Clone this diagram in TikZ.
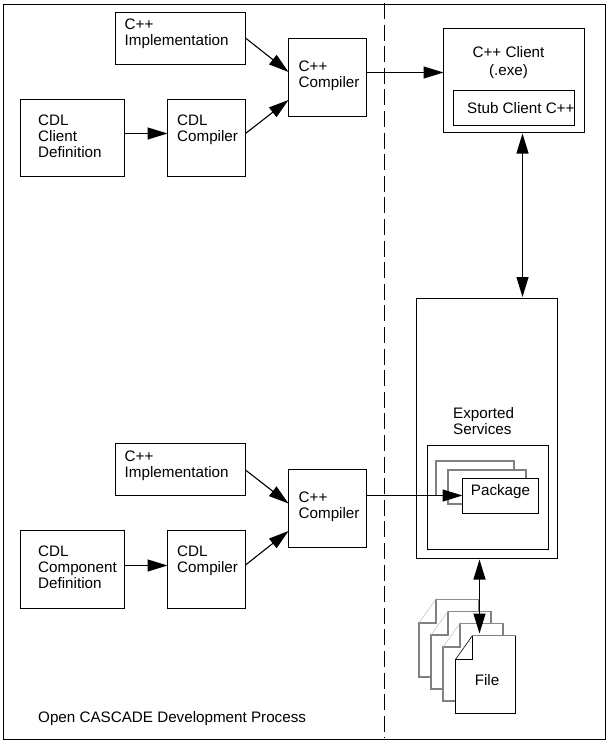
\documentclass[tikz,border=0pt]{standalone}
\usepackage{fontspec}
\setmainfont{Liberation Sans}
\usetikzlibrary{arrows.meta}
\tikzset{
  x=1pt,y=-1pt,
  box/.style={draw=black,line width=1.1pt,fill=white,outer sep=0pt,inner sep=0pt,anchor=north west},
  grey box/.style={box,draw=black!50,line width=1.7pt},
  lab/.style={inner sep=0pt,align=left,anchor=north west,font=\fontsize{15.2}{16}\selectfont},
  conn/.style={line width=1.1pt},
  big/.style={-{Triangle[length=20pt,width=12pt]}},
  bigboth/.style={{Triangle[length=20pt,width=12pt]}-{Triangle[length=20pt,width=12pt]}},
}
\begin{document}
\begin{tikzpicture}
\useasboundingbox (0,0) rectangle (609,744);
\fill[white] (0,0) rectangle (609,744);
% frame
\draw[line width=1.1pt] (3.5,739.5) -- (3.5,4.5) -- (605.5,4.5) -- (605.5,739.5) -- cycle;
\coordinate (dashtop) at (384.5,3);
\coordinate (dashbot) at (384.5,738);
\draw[line width=1.1pt,dash pattern=on 16pt off 5.6pt] (dashtop) -- (dashbot);
% upper left
\node[box,minimum width=130pt,minimum height=52pt] (impA) at (115.5,12.5) {};
\node[lab] at (124.5,19) {C++\\Implementation};
\node[box,minimum width=104pt,minimum height=77pt] (cdlA) at (20.5,99.5) {};
\node[lab] at (38,114.5) {CDL\\Client\\Definition};
\node[box,minimum width=78pt,minimum height=77pt] (compA) at (167.5,99.5) {};
\node[lab] at (177,114.5) {CDL\\Compiler};
\node[box,minimum width=78pt,minimum height=78pt] (ccA) at (288.5,38.5) {};
\node[lab] at (298.5,60.5) {C++\\Compiler};
% client
\node[box,minimum width=141pt,minimum height=104pt] (client) at (443.5,28.5) {};
\node[font=\fontsize{15.2}{18}\selectfont,align=center,inner sep=0pt,anchor=north] at (508.5,46) {C++ Client\\(.exe)};
\node[box,minimum width=121pt,minimum height=35pt] (stub) at (453.5,90.5) {};
\node[lab,anchor=west] at (467,108) {Stub Client C++};
% server
\node[box,minimum width=141pt,minimum height=260pt] (server) at (416.5,298.5) {};
\node[lab] at (453,407.5) {Exported\\Services};
\node[box,minimum width=121pt,minimum height=104pt] (svc) at (427.5,445.5) {};
\node[grey box,minimum width=78pt,minimum height=34.5pt] (p1) at (436,461) {};
\node[grey box,minimum width=78pt,minimum height=34pt] (p2) at (448,470) {};
\node[box,minimum width=76pt,minimum height=35pt] (pkg) at (462.5,478.5) {};
\node[font=\fontsize{15.2}{16}\selectfont,inner sep=0pt] at (500.5,492) {Package};
% lower left
\node[box,minimum width=130pt,minimum height=52pt] (impB) at (115.5,443.5) {};
\node[lab] at (124.5,451) {C++\\Implementation};
\node[box,minimum width=104pt,minimum height=78pt] (cdlB) at (20.5,530.5) {};
\node[lab] at (38,545.5) {CDL\\Component\\Definition};
\node[box,minimum width=78pt,minimum height=78pt] (compB) at (167.5,530.5) {};
\node[lab] at (177,545.5) {CDL\\Compiler};
\node[box,minimum width=78pt,minimum height=78pt] (ccB) at (288.5,469.5) {};
\node[lab] at (298.5,492) {C++\\Compiler};
\node[lab] at (38,711) {Open CASCADE Development Process};
% files
\foreach \dx/\dy in {0/0,12/12.3,24.2/24}{
  \fill[white] (419+\dx,622.7+\dy) -- (436+\dx,599+\dy) -- (479+\dx,599+\dy) -- (479+\dx,677+\dy) -- (419+\dx,677+\dy) -- cycle;
  \draw[black!45,line width=1pt] (436+\dx,599+\dy) -- (479+\dx,599+\dy);
  \draw[black!50,line width=1.7pt] (479+\dx,599+\dy) -- (479+\dx,612+\dy);
  \draw[black!50,line width=1.7pt] (436+\dx,599+\dy) -- (436+\dx,622.7+\dy) -- (419+\dx,622.7+\dy) -- (419+\dx,677+\dy) -- (445+\dx,677+\dy);
  \draw[black!25,line width=.5pt] (419+\dx,622.7+\dy) -- (436+\dx,599+\dy);
}
\path[fill=white] (455.5,659.5) -- (472.5,635.5) -- (515.5,635.5) -- (515.5,713.5) -- (455.5,713.5) -- cycle;
\draw[black,line width=1.1pt] (472.5,635.5) -- (472.5,659.5) -- (455.5,659.5) -- (455.5,713.5) -- (515.5,713.5) -- (515.5,635.5);
\draw[black!50,line width=1.1pt] (472.5,635.5) -- (515.5,635.5);
\draw[black,line width=.6pt] (455.5,659.5) -- (472.5,635.5);
\node[font=\fontsize{15.2}{16}\selectfont,inner sep=0pt] (file) at (487,680) {File};
\coordinate (fileTop) at (479.5,633.5);
% connectors
\draw[conn,big] (impA.east |- 0,38) -- (ccA.west |- 0,72);
\draw[conn,big] (compA.east |- 0,133.5) -- (ccA.west |- 0,100);
\draw[conn,big] (cdlA.east |- 0,133.5) -- (compA.west |- 0,133.5);
\draw[conn,big] (ccA.east |- 0,72.5) -- (client.west |- 0,72.5);
\draw[conn,bigboth] (522.5,133.5) -- (522.5,297);
\draw[conn,big] (impB.east |- 0,470) -- (ccB.west |- 0,503.5);
\draw[conn,big] (compB.east |- 0,565) -- (ccB.west |- 0,531);
\draw[conn,big] (cdlB.east |- 0,565.5) -- (compB.west |- 0,565.5);
\draw[conn,big] (ccB.east |- 0,495.5) -- (pkg.west |- 0,495.5);
\draw[conn,bigboth] (479.5,559.5) -- (fileTop);
\end{tikzpicture}
\end{document}
